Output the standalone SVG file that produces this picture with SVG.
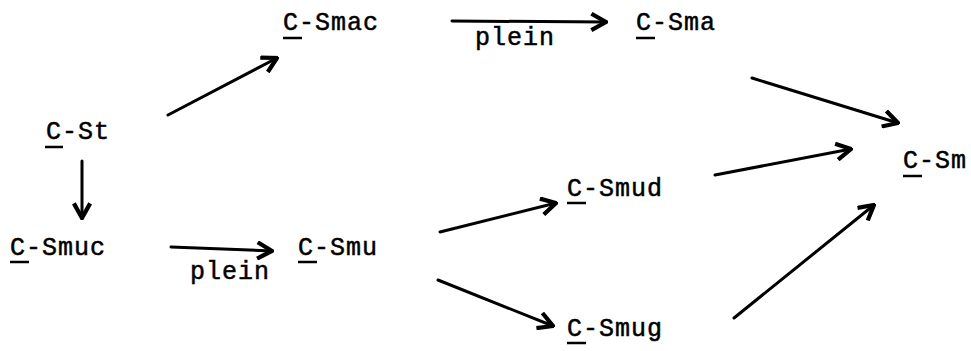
<svg xmlns="http://www.w3.org/2000/svg" width="971" height="351" viewBox="0 0 971 351">
<style>
text{font-family:"Liberation Mono","DejaVu Sans Mono",monospace;font-size:25px;letter-spacing:1px;fill:#000;stroke:#000;stroke-width:0.5}
.u{stroke:#000;stroke-width:2.5}
.c{fill:none;stroke:#000;stroke-width:3;stroke-linecap:round;marker-end:url(#ah)}
</style>
<defs>
<marker id="ah" viewBox="0 0 12 12" refX="11" refY="6" markerWidth="6.5" markerHeight="6.5" orient="auto" markerUnits="strokeWidth">
<path d="M2,1 L11,6 L2,11" fill="none" stroke="#000" stroke-width="2.6" stroke-linejoin="miter"/>
</marker>
</defs>
<rect width="971" height="351" fill="#fff"/>
<g id="connectors">
<line class="c" x1="168" y1="115" x2="277" y2="58"/>
<line class="c" x1="82" y1="161" x2="82" y2="218"/>
<line class="c" x1="171" y1="247" x2="272" y2="251"/>
<line class="c" x1="452" y1="21" x2="606" y2="22"/>
<line class="c" x1="752" y1="78" x2="898" y2="123"/>
<line class="c" x1="715" y1="175" x2="851" y2="149"/>
<line class="c" x1="734" y1="318" x2="874" y2="205"/>
<line class="c" x1="440" y1="232" x2="556" y2="203"/>
<line class="c" x1="438" y1="280" x2="553" y2="326"/>
<text x="475" y="45">plein</text>
<text x="190" y="279">plein</text>
</g>
<g id="n-CSt"><text x="46" y="139">C-St</text><line class="u" x1="45" y1="147" x2="63" y2="147"/></g>
<g id="n-CSmuc"><text x="10" y="255">C-Smuc</text><line class="u" x1="10" y1="262" x2="29" y2="262"/></g>
<g id="n-CSmac"><text x="283" y="30">C-Smac</text><line class="u" x1="283" y1="38" x2="302" y2="38"/></g>
<g id="n-CSma"><text x="636" y="30">C-Sma</text><line class="u" x1="636" y1="38" x2="655" y2="38"/></g>
<g id="n-CSmu"><text x="298" y="255">C-Smu</text><line class="u" x1="298" y1="262" x2="317" y2="262"/></g>
<g id="n-CSmud"><text x="567" y="196">C-Smud</text><line class="u" x1="567" y1="203" x2="586" y2="203"/></g>
<g id="n-CSmug"><text x="567" y="336">C-Smug</text><line class="u" x1="567" y1="343" x2="586" y2="343"/></g>
<g id="n-CSm"><text x="903" y="168">C-Sm</text><line class="u" x1="903" y1="176" x2="922" y2="176"/></g>
</svg>
